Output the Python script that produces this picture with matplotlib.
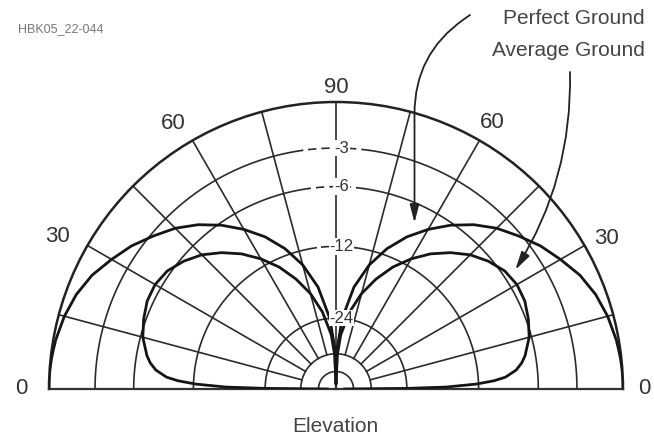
import numpy as np
import matplotlib
matplotlib.use('Agg')
import matplotlib.pyplot as plt

plt.rcParams['font.family'] = ['Liberation Sans', 'DejaVu Sans']

# elevation angle (deg) and relative gain (dB), right half
elev = [0, 0.5, 1, 2, 3, 4, 6, 8, 10, 15, 20, 25, 30, 35, 40, 45,
        50, 55, 60, 65, 70, 75, 80, 85, 88, 90]
perfect_db = [0, 0, 0, 0, -0.01, -0.02, -0.05, -0.1, -0.15, -0.35, -0.65, -1.1,
              -1.75, -2.4, -3.2, -4.0, -5.0, -6.2, -7.6, -9.2, -11.2, -13.8,
              -17.5, -24, -33, -70]
average_db = [-60, -24, -16.5, -12.3, -10.2, -9.0, -7.9, -7.3, -6.9, -6.2, -5.8,
              -5.5, -5.45, -5.7, -6.3, -7.1, -8.2, -9.5, -11.1, -13.0, -15.4,
              -18.3, -22.3, -28.5, -37, -70]

ring_db = [-3, -6, -12, -24, -36, -48]
ring_labels = ['-3', '-6', '-12', '-24']
spokes = [15, 30, 45, 60, 75, 90, 105, 120, 135, 150, 165]
angle_labels = ['0', '30', '60', '90', '60', '30', '0']
angle_label_pos = [(0, 1.075), (29.2, 1.078), (59.6, 1.075), (90, 1.05),
                   (121.5, 1.087), (151.4, 1.107), (180, 1.095)]


def to_r(db):
    # ARRL log scale: 0.89 per 2 dB
    return 0.89 ** (np.abs(np.asarray(db, dtype=float)) / 2.0)


W, H = 654, 438
fig = plt.figure(figsize=(W / 100, H / 100), dpi=100)
# half-disk is fitted into a square box; centre at (336, 389), radius 287 px
R, cx, cy = 287, 336, 389
side = 2 * R
top = cy - R / 2 - side / 2
ax = fig.add_axes([(cx - R) / W, (H - top - side) / H, side / W, side / H],
                  projection='polar')
ax.set_thetamin(0)
ax.set_thetamax(180)
ax.set_rlim(0, 1)
ax.set_xticks([])
ax.set_yticks([])
ax.grid(False)
ax.spines['polar'].set_linewidth(1.8)
ax.spines['polar'].set_color('#222222')
for s in ['start', 'end']:
    ax.spines[s].set_linewidth(1.6)
    ax.spines[s].set_color('#333333')

gc = '#2b2b2b'
# rings
for db in ring_db:
    r = to_r(db)
    if db in (-3, -6, -12):
        t1 = np.radians(np.linspace(0, 82, 200))
        t2 = np.radians(np.linspace(98, 180, 200))
        t3 = np.radians(np.linspace(82, 98, 50))
        ax.plot(t1, np.full_like(t1, r), color=gc, lw=1.2)
        ax.plot(t2, np.full_like(t2, r), color=gc, lw=1.2)
        ax.plot(t3, np.full_like(t3, r), color=gc, lw=1.2, ls=(0, (5, 3)))
    else:
        t = np.radians(np.linspace(0, 180, 400))
        ax.plot(t, np.full_like(t, r), color=gc, lw=1.2)

# spokes
r_in = to_r(-36)
for a in spokes:
    ax.plot([np.radians(a)] * 2, [r_in, 1], color=gc, lw=1.2)
ax.plot([np.pi / 2] * 2, [0, r_in], color=gc, lw=1.6)

# patterns, mirrored to the left half
th = np.array(elev)
full_th = np.radians(np.concatenate([th, 180 - th[::-1]]))
for vals in (perfect_db, average_db):
    v = np.array(vals)
    full_r = to_r(np.concatenate([v, v[::-1]]))
    ax.plot(full_th, full_r, color='#151515', lw=2.0, zorder=5)

# ring labels
for db, lab in zip(ring_db, ring_labels):
    ax.annotate(lab, xy=(np.pi / 2, to_r(db)), xytext=(4, 0),
                textcoords='offset points', ha='center', va='center',
                fontsize=12, color='#333333', zorder=6,
                bbox=dict(boxstyle='square,pad=0.05', fc='white', ec='none'))

# angle labels
for lab, (a, r) in zip(angle_labels, angle_label_pos):
    ax.text(np.radians(a), r, lab, ha='center', va='center', fontsize=16,
            color='#333333', clip_on=False)

# arrows
arrow_kw = dict(arrowstyle='-|>,head_length=1.1,head_width=0.28',
                color='#222222', lw=1.3, shrinkA=0, shrinkB=0,
                mutation_scale=10)
ax.annotate('', xy=(np.radians(64.7), 0.64), xycoords='data',
            xytext=(470, H - 15), textcoords='figure pixels',
            arrowprops=dict(connectionstyle='angle,angleA=35,angleB=90,rad=60',
                            **arrow_kw), zorder=7)
ax.annotate('', xy=(np.radians(33.6), 0.75), xycoords='data',
            xytext=(570, H - 72), textcoords='figure pixels',
            arrowprops=dict(connectionstyle='arc3,rad=-0.15', **arrow_kw),
            zorder=7)

fig.text(645 / W, 1 - 18 / H, 'Perfect Ground', ha='right', va='center',
         fontsize=15, color='#444444')
fig.text(645 / W, 1 - 51 / H, 'Average Ground', ha='right', va='center',
         fontsize=15, color='#444444')
fig.text(335 / W, 1 - 426 / H, 'Elevation', ha='center', va='center',
         fontsize=15, color='#444444')
fig.text(18 / W, 1 - 29 / H, 'HBK05_22-044', ha='left', va='center',
         fontsize=9, color='#777777')

fig.savefig('out.png', dpi=100)
